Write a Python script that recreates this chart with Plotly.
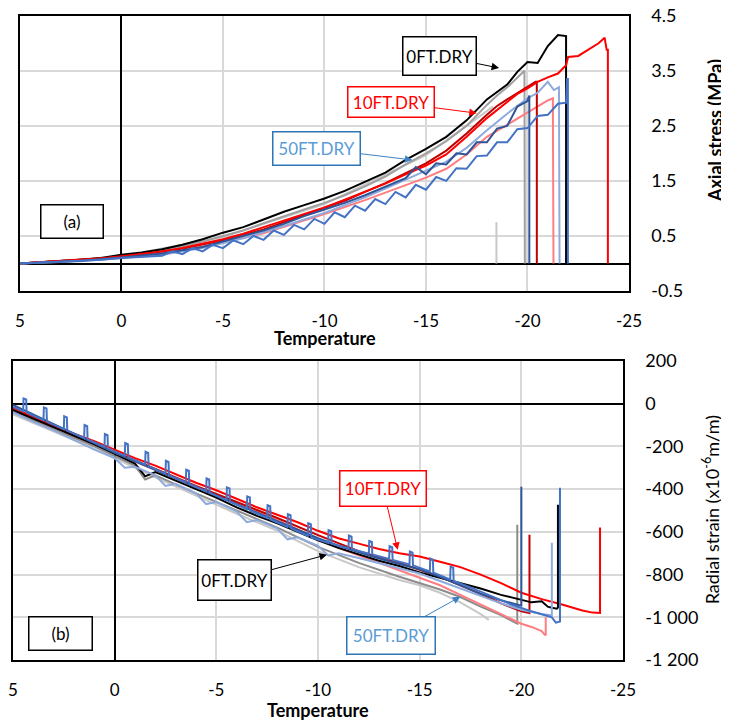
import plotly.graph_objects as go

# ---------------- (a) axial stress vs temperature ----------------
a_t_0ft_1 = [5, 4, 3, 2, 1, 0, -1, -2, -3, -4, -5, -6, -7, -8, -9, -10, -11, -12, -13, -14, -15,
             -16, -17, -18, -18.5, -19, -19.5, -20, -20.5, -21, -21.5, -21.9, -21.9]
a_s_0ft_1 = [0.0, 0.02, 0.05, 0.07, 0.1, 0.16, 0.2, 0.26, 0.34, 0.44, 0.56, 0.66, 0.8, 0.94, 1.06, 1.18,
             1.32, 1.48, 1.65, 1.88, 2.08, 2.3, 2.6, 2.98, 3.12, 3.25, 3.48, 3.66, 3.64, 3.95, 4.15, 4.13, 0.0]

a_t_0ft_2 = [5, 4, 3, 2, 1, 0, -1, -2, -3, -4, -5, -6, -7, -8, -9, -10, -11, -12, -13, -14, -15,
             -16, -17, -18, -18.5, -19, -19.85, -19.87]
a_s_0ft_2 = [0.0, 0.02, 0.04, 0.06, 0.09, 0.14, 0.18, 0.24, 0.31, 0.4, 0.5, 0.6, 0.73, 0.86, 0.98, 1.1,
             1.24, 1.4, 1.58, 1.8, 2.0, 2.22, 2.5, 2.88, 3.05, 3.2, 3.5, 0.0]

a_t_0ft_3 = [5, 0, -5, -10, -15, -18.3, None, -18.47, -18.47]
a_s_0ft_3 = [0.0, 0.13, 0.48, 1.08, 1.97, 2.85, None, 0.75, 0.0]

a_t_10ft_1 = [5, 4, 3, 2, 1, 0, -1, -2, -3, -4, -5, -6, -7, -8, -9, -10, -11, -12, -13, -14, -15,
              -16, -17, -18, -19, -19.5, -20, -20.5, -21, -21.5, -21.9, -22, -22.5, -23, -23.5,
              -23.8, -23.9, -23.96, -23.96]
a_s_10ft_1 = [0.0, 0.02, 0.04, 0.06, 0.09, 0.13, 0.17, 0.22, 0.28, 0.36, 0.44, 0.54, 0.66, 0.78, 0.9,
              1.02, 1.16, 1.3, 1.45, 1.62, 1.78, 1.98, 2.3, 2.64, 2.94, 3.08, 3.18, 3.3, 3.38, 3.45,
              3.6, 3.75, 3.77, 3.88, 4.0, 4.1, 3.88, 3.88, 0.0]

a_t_10ft_2 = [5, 0, -3, -5, -7, -9, -10, -11, -12, -13, -14, -15, -16, -17, -18, -18.5, -19, -19.5,
              -20, -20.4, -20.46, -20.46]
a_s_10ft_2 = [0.0, 0.12, 0.27, 0.42, 0.62, 0.88, 1.0, 1.14, 1.3, 1.46, 1.64, 1.82, 2.05, 2.36, 2.7,
              2.86, 2.98, 3.1, 3.22, 3.3, 3.3, 0.0]

a_t_10ft_3 = [5, 0, -3, -5, -7, -9, -10, -12, -14, -15, -16, -17, -18, -19, -20, -20.5, -21, -21.25, -21.28]
a_s_10ft_3 = [0.0, 0.1, 0.24, 0.38, 0.55, 0.78, 0.9, 1.15, 1.42, 1.56, 1.72, 1.98, 2.3, 2.52, 2.75,
              2.85, 2.96, 3.0, 0.0]

a_t_50ft_1 = [5, 3, 1, 0, -1, -2, -2.5, -3, -3.5, -4, -4.5, -5, -5.5, -6, -6.5, -7, -7.5, -8, -8.5,
              -9, -9.5, -10, -10.5, -11, -11.5, -12, -12.5, -13, -13.5, -14, -14.5, -15, -15.5, -16,
              -16.5, -17, -17.5, -18, -18.5, -19, -19.5, -20, -20.5, -21, -21.5, -21.9, -21.95,
              -21.99, -21.99]
a_s_50ft_1 = [0.0, 0.03, 0.07, 0.1, 0.12, 0.14, 0.22, 0.17, 0.28, 0.22, 0.34, 0.28, 0.42, 0.35, 0.5,
              0.43, 0.6, 0.52, 0.7, 0.62, 0.81, 0.72, 0.93, 0.84, 1.05, 0.96, 1.17, 1.08, 1.3, 1.2,
              1.43, 1.34, 1.57, 1.5, 1.73, 1.72, 1.95, 1.96, 2.2, 2.2, 2.44, 2.46, 2.68, 2.7, 2.9,
              2.92, 3.35, 3.35, 0.0]

a_t_50ft_2 = [5, 2, 0, -2, -4, -5, -6, -7, -8, -9, -10, -11, -12, -13, -14, -14.5, -15, -15.5, -16,
              -16.5, -17, -17.5, -18, -18.5, -19, -19.5, -20, -20.09, -20.09]
a_s_50ft_2 = [0.0, 0.05, 0.11, 0.18, 0.3, 0.4, 0.5, 0.6, 0.72, 0.86, 0.98, 1.1, 1.24, 1.4, 1.55, 1.75,
              1.62, 1.82, 1.8, 2.0, 1.98, 2.2, 2.2, 2.45, 2.5, 2.85, 2.95, 3.05, 0.0]

a_t_50ft_3 = [5, 2, 0, -2, -4, -6, -8, -10, -11, -12, -13, -14, -15, -16, -17, -18, -19, -20, -20.5,
              -21, -21.3, -21.55, -21.58]
a_s_50ft_3 = [0.0, 0.04, 0.1, 0.16, 0.28, 0.46, 0.68, 0.92, 1.06, 1.2, 1.36, 1.52, 1.68, 1.85, 2.1,
              2.42, 2.72, 3.0, 3.1, 3.3, 3.15, 3.2, 0.0]

# ---------------- (b) radial strain vs temperature ----------------
b_t_0ft_1 = [5, 4, 3, 2, 1, 0, -1, -1.5, -2, -3, -4, -5, -6, -7, -8, -9, -10, -11, -12, -13, -14,
             -15, -16, -17, -18, -19, -20, -20.5, -21, -21.3, -21.5, -21.75, -21.8, -21.8]
b_e_0ft_1 = [-30, -70, -110, -150, -190, -235, -280, -340, -320, -360, -400, -440, -485, -525, -560,
             -600, -640, -675, -705, -735, -760, -790, -815, -840, -865, -895, -920, -930, -925, -950,
             -955, -960, -955, -473]

b_t_0ft_2 = [5, 3, 1, 0, -1, -1.5, -2, -4, -6, -8, -10, -12, -14, -15, -16, -17, -18, -19, -19.75,
             -19.8, -19.8]
b_e_0ft_2 = [-40, -120, -200, -245, -290, -355, -335, -420, -500, -580, -670, -745, -810, -840, -870,
             -905, -950, -990, -1030, -1030, -567]

b_t_0ft_3 = [5, 3, 1, 0, -1, -2, -4, -6, -8, -10, -12, -14, -15, -16, -17, -18, -18.4]
b_e_0ft_3 = [-50, -130, -210, -255, -300, -345, -430, -515, -595, -690, -765, -825, -850, -885, -930,
             -985, -1012]

b_t_10ft_1 = [5, 4, 3, 2, 1, 0, -1, -2, -3, -4, -5, -6, -7, -8, -9, -10, -11, -12, -13, -14, -15,
              -16, -17, -18, -19, -20, -21, -22, -22.5, -23, -23.5, -23.85, -23.87, -23.87]
b_e_10ft_1 = [-20, -60, -100, -140, -175, -215, -255, -290, -330, -370, -405, -445, -485, -520, -555,
              -595, -630, -655, -680, -700, -715, -740, -765, -800, -840, -885, -915, -940, -955,
              -968, -978, -980, -980, -580]

b_t_10ft_2 = [5, 3, 1, 0, -2, -4, -6, -8, -10, -12, -14, -16, -18, -19, -20, -20.35, -20.4, -20.4]
b_e_10ft_2 = [-25, -105, -185, -225, -305, -385, -460, -535, -615, -690, -745, -810, -890, -935, -972,
              -980, -980, -614]

b_t_10ft_3 = [5, 3, 1, 0, -2, -4, -6, -8, -10, -11, -12, -13, -14, -15, -16, -17, -18, -19, -20,
              -20.5, -21, -21.15, -21.2, -21.2]
b_e_10ft_3 = [-30, -110, -190, -230, -310, -390, -470, -545, -630, -675, -710, -745, -780, -815, -850,
              -895, -940, -985, -1030, -1045, -1065, -1082, -1082, -1000]

b_t_50ft_1 = [5,
              4.5, 4.48, 4.35, 4.33, 3.5, 3.48, 3.35, 3.33, 2.5, 2.48, 2.35, 2.33,
              1.5, 1.48, 1.35, 1.33, 0.5, 0.48, 0.35, 0.33, -0.5, -0.52, -0.65, -0.67,
              -1.5, -1.52, -1.65, -1.67, -2.5, -2.52, -2.65, -2.67, -3.5, -3.52, -3.65, -3.67,
              -4.5, -4.52, -4.65, -4.67, -5.5, -5.52, -5.65, -5.67, -6.5, -6.52, -6.65, -6.67,
              -7.5, -7.52, -7.65, -7.67, -8.5, -8.52, -8.65, -8.67, -9.5, -9.52, -9.65, -9.67,
              -10.5, -10.52, -10.65, -10.67, -11.5, -11.52, -11.65, -11.67,
              -12.5, -12.52, -12.65, -12.67, -13.5, -13.52, -13.65, -13.67,
              -14.5, -14.52, -14.65, -14.67, -15.5, -15.52, -15.65, -15.67,
              -16.5, -16.52, -16.65, -16.67,
              -17.5, -18.5, -19.5, -20.5, -21, -21.5, -21.7, -21.85, -21.9, -21.9]
b_e_50ft_1 = [-15,
              -35, 25, 20, -42, -77, -17, -22, -84, -119, -59, -64, -126,
              -160, -100, -105, -167, -202, -142, -147, -209, -244, -184, -189, -251,
              -285, -225, -230, -292, -327, -267, -272, -334, -369, -309, -314, -376,
              -410, -350, -355, -417, -452, -392, -397, -459, -494, -434, -439, -501,
              -535, -475, -480, -542, -577, -517, -522, -584, -619, -559, -564, -626,
              -652, -592, -597, -656, -677, -617, -622, -681,
              -702, -642, -647, -706, -727, -667, -672, -731,
              -752, -692, -697, -757, -785, -725, -730, -791,
              -823, -763, -768, -830,
              -860, -900, -940, -972, -985, -1000, -1025, -1020, -1020, -393]

b_t_50ft_2 = [5, 4, 3, 2, 1, 0, -1, -2, -3, -4, -5, -6, -7, -8, -9, -10, -11, -12, -13, -14, -15,
              -16, -17, -18, -19, -19.5, -19.95, -20.0, -20.0]
b_e_50ft_2 = [-5, -50, -95, -140, -185, -230, -270, -310, -350, -390, -430, -470, -510, -550, -590,
              -630, -665, -695, -725, -750, -775, -810, -850, -890, -920, -935, -945, -945, -389]

b_t_50ft_3 = [5, 4, 3, 2, 1, 0, -0.5, -1, -2, -2.5, -3, -4, -4.5, -5, -6, -6.5, -7, -8, -8.5, -9,
              -10, -10.5, -11, -12, -13, -14, -15, -16, -17, -18, -19, -20, -21, -21.45, -21.5, -21.5]
b_e_50ft_3 = [-40, -85, -125, -170, -215, -255, -300, -295, -335, -385, -375, -420, -470, -460, -505,
              -555, -545, -585, -635, -625, -665, -710, -700, -722, -746, -770, -795, -830, -865,
              -900, -935, -965, -985, -990, -990, -651]

# ticks
x_ticks = [5, 0, -5, -10, -15, -20, -25]
x_labels = ["5", "0", "-5", "-10", "-15", "-20", "-25"]
a_ticks = [-0.5, 0.5, 1.5, 2.5, 3.5, 4.5]
a_labels = ["-0.5", "0.5", "1.5", "2.5", "3.5", "4.5"]
b_ticks = [-1200, -1000, -800, -600, -400, -200, 0, 200]
b_labels = ["-1 200", "-1 000", "-800", "-600", "-400", "-200", "0", "200"]

FONT = "Lato, 'Liberation Sans', sans-serif"
GRID = "#D9D9D9"

series_a = [
    (a_t_0ft_3, a_s_0ft_3, "#C8C8C8"),
    (a_t_0ft_2, a_s_0ft_2, "#A0A0A0"),
    (a_t_0ft_1, a_s_0ft_1, "#000000"),
    (a_t_10ft_3, a_s_10ft_3, "#FF7C80"),
    (a_t_10ft_2, a_s_10ft_2, "#C00000"),
    (a_t_10ft_1, a_s_10ft_1, "#FF0000"),
    (a_t_50ft_3, a_s_50ft_3, "#8FAADC"),
    (a_t_50ft_2, a_s_50ft_2, "#2F5597"),
    (a_t_50ft_1, a_s_50ft_1, "#4472C4"),
]
series_b = [
    (b_t_0ft_3, b_e_0ft_3, "#C8C8C8"),
    (b_t_0ft_2, b_e_0ft_2, "#8C8C8C"),
    (b_t_10ft_3, b_e_10ft_3, "#FF7C80"),
    (b_t_10ft_2, b_e_10ft_2, "#C00000"),
    (b_t_10ft_1, b_e_10ft_1, "#FF0000"),
    (b_t_0ft_1, b_e_0ft_1, "#000000"),
    (b_t_50ft_3, b_e_50ft_3, "#8FAADC"),
    (b_t_50ft_2, b_e_50ft_2, "#2F5597"),
    (b_t_50ft_1, b_e_50ft_1, "#4472C4"),
]

fig = go.Figure()
for t, s, c in series_a:
    fig.add_trace(go.Scatter(x=t, y=s, mode="lines", line=dict(color=c, width=2),
                             xaxis="x", yaxis="y", showlegend=False))
for t, e, c in series_b:
    fig.add_trace(go.Scatter(x=t, y=e, mode="lines", line=dict(color=c, width=2),
                             xaxis="x2", yaxis="y2", showlegend=False))

xax = dict(range=[5, -25], tickvals=x_ticks, ticktext=x_labels, showgrid=True, gridcolor=GRID,
           gridwidth=1.5, zeroline=True, zerolinecolor="black", zerolinewidth=1.5,
           showline=True, linecolor="black", linewidth=1.5, mirror=True, automargin=False,
           ticks="outside", ticklen=14, tickcolor="rgba(0,0,0,0)", ticklabeloverflow="allow",
           tickfont=dict(size=17, color="black", family=FONT))
yax = dict(side="right", showgrid=True, gridcolor=GRID, gridwidth=1.5,
           zeroline=True, zerolinecolor="black", zerolinewidth=1.5, automargin=False,
           showline=True, linecolor="black", linewidth=1.5, mirror=True,
           ticks="outside", ticklen=17, tickcolor="rgba(0,0,0,0)", ticklabeloverflow="allow",
           tickfont=dict(size=18, color="black", family=FONT))


def box(x, y, text, color, border, w, h, xr, yr, ax=None, ay=None, acolor=None):
    a = dict(x=x, y=y, xref=xr, yref=yr, text=text, showarrow=False,
             font=dict(size=17, color=color, family=FONT),
             bordercolor=border, borderwidth=1.5, borderpad=0, bgcolor="white",
             width=w, height=h)
    if ax is not None:
        a.update(x=ax, y=ay, ax=x, ay=y, axref=xr, ayref=yr, showarrow=True,
                 arrowhead=2, arrowsize=1.5, arrowwidth=1, arrowcolor=acolor)
    return a


def title(x, y, text, angle=0, bold=True):
    f = dict(size=18, color="black", family=FONT)
    if bold:
        f["weight"] = "bold"
    return dict(x=x, y=y, xref="paper", yref="paper", text=text, showarrow=False,
                xanchor="center", yanchor="middle", textangle=angle, font=f)


annotations = [
    box(-15.68, 3.77, "0FT.DRY", "black", "black", 72, 37, "x", "y", -18.6, 3.55, "black"),
    box(-13.3, 2.93, "10FT.DRY", "#FF0000", "#FF0000", 85, 29, "x", "y", -17.5, 2.73, "#FF0000"),
    box(-9.63, 2.09, "50FT.DRY", "#5B9BD5", "#2E75B6", 86, 32, "x", "y", -14.33, 1.88, "#3C82C4"),
    box(2.44, 0.76, "(a)", "black", "black", 61, 32, "x", "y"),
    box(-13.19, -396, "10FT.DRY", "#FF0000", "#FF0000", 85, 34, "x2", "y2", -13.92, -684, "#FF0000"),
    box(-5.9, -824, "0FT.DRY", "black", "black", 72, 39, "x2", "y2", -10.44, -707, "black"),
    box(-13.58, -1084, "50FT.DRY", "#5B9BD5", "#2E75B6", 87, 36, "x2", "y2", -17.0, -904, "#3C82C4"),
    box(2.67, -1075, "(b)", "black", "black", 62, 32, "x2", "y2"),
    title(0.439, 0.538, "Temperature"),
    title(0.43, 0.0168, "Temperature"),
    title(0.9805, 0.829, "Axial stress (MPa)", -90),
    title(0.9755, 0.297, "Radial strain (x10<sup>-6</sup>m/m)", -90, bold=False),
]

# the page puts the figure 8 px in from the top-left corner, so it is drawn 8 px smaller
fig.update_layout(
    width=721, height=714,
    margin=dict(l=0, r=0, t=0, b=0, autoexpand=False),
    paper_bgcolor="white", plot_bgcolor="white",
    font=dict(family=FONT, color="black"),
    showlegend=False,
    xaxis=dict(xax, domain=[0.0166, 0.8613], anchor="y"),
    yaxis=dict(yax, domain=[0.6036, 0.9892], anchor="x", range=[-0.5, 4.5],
               tickvals=a_ticks, ticktext=a_labels),
    xaxis2=dict(xax, domain=[0.0069, 0.853], anchor="y2"),
    yaxis2=dict(yax, domain=[0.0868, 0.5056], anchor="x2", range=[-1200, 200],
                tickvals=b_ticks, ticktext=b_labels),
    annotations=annotations,
)

fig.write_html("out.html")
